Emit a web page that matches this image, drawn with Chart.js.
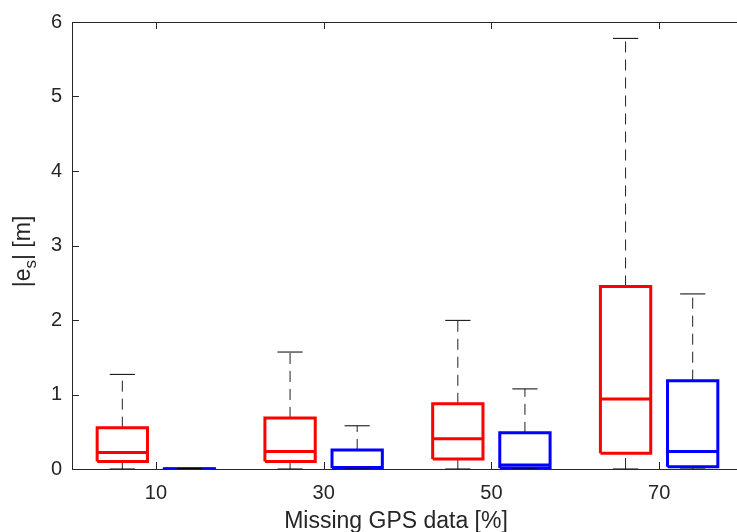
<!DOCTYPE html>
<html>
<head>
<meta charset="utf-8">
<script src="https://cdn.jsdelivr.net/npm/chart.js@4/dist/chart.umd.min.js"></script>
<style>
  html, body { margin: 0; padding: 0; overflow: hidden; background: #fff; }
  #wrap { width: 745px; height: 532px; }
</style>
</head>
<body>
<div id="wrap"><canvas id="chart_error"></canvas></div>
<script>
// missing GPS data [%]
var groups = [10, 30, 50, 70];

// red boxes: |e_s| statistics [m]
var redMin = [0, 0, 0, 0];
var redQ1 = [0.10, 0.10, 0.135, 0.21];
var redMed = [0.22, 0.235, 0.405, 0.94];
var redQ3 = [0.555, 0.685, 0.875, 2.45];
var redMax = [1.27, 1.57, 1.995, 5.78];

// blue boxes
var blueMin = [0, 0, 0, 0];
var blueQ1 = [0, 0.01, 0.013, 0.03];
var blueMed = [0, 0.02, 0.055, 0.235];
var blueQ3 = [0.005, 0.255, 0.485, 1.185];
var blueMax = [0.005, 0.58, 1.075, 2.35];

var yTicks = [0, 1, 2, 3, 4, 5, 6];

var shift = 4;      // box offset from the group position
var halfBox = 3;    // half box width (x units)
var halfCap = 1.5;  // half whisker cap width

var axisColor = '#262626';
var fontFamily = "'Liberation Sans', Arial, sans-serif";

function outlines(off, q1, q3) {
    var pts = [];
    groups.forEach(function (g, i) {
        var c = g + off;
        pts.push({x: c - halfBox, y: q1[i]}, {x: c - halfBox, y: q3[i]},
                 {x: c + halfBox, y: q3[i]}, {x: c + halfBox, y: q1[i]},
                 {x: c - halfBox, y: q1[i]}, {x: c, y: null});
    });
    return pts;
}

function medians(off, med) {
    var pts = [];
    groups.forEach(function (g, i) {
        var c = g + off;
        pts.push({x: c - halfBox, y: med[i]}, {x: c + halfBox, y: med[i]}, {x: c, y: null});
    });
    return pts;
}

function whiskers(off, lo, q1, q3, hi) {
    var pts = [];
    groups.forEach(function (g, i) {
        var c = g + off;
        pts.push({x: c, y: q3[i]}, {x: c, y: hi[i]}, {x: c, y: null});
        pts.push({x: c, y: lo[i]}, {x: c, y: q1[i]}, {x: c, y: null});
    });
    return pts;
}

function caps(off, lo, hi) {
    var pts = [];
    groups.forEach(function (g, i) {
        var c = g + off;
        pts.push({x: c - halfCap, y: hi[i]}, {x: c + halfCap, y: hi[i]}, {x: c, y: null});
        pts.push({x: c - halfCap, y: lo[i]}, {x: c + halfCap, y: lo[i]}, {x: c, y: null});
    });
    return pts;
}

function seg(data, color, width, dash, order) {
    return {
        data: data, borderColor: color, borderWidth: width, borderDash: dash || [],
        pointRadius: 0, fill: false, showLine: true, spanGaps: false,
        tension: 0, borderJoinStyle: 'miter', borderCapStyle: 'butt', order: order
    };
}

// box frame, inward tick marks and the axis titles
var axesBox = {
    id: 'axesBox',
    afterDraw: function (chart) {
        var a = chart.chartArea, c = chart.ctx;
        var xs = chart.scales.x, ys = chart.scales.y;
        c.save();
        c.strokeStyle = axisColor;
        c.lineWidth = 1;
        c.beginPath();
        c.rect(Math.round(a.left) + 0.5, Math.round(a.top) + 0.5,
               Math.round(a.right - a.left), Math.round(a.bottom - a.top));
        groups.forEach(function (g) {
            var px = Math.round(xs.getPixelForValue(g)) + 0.5;
            c.moveTo(px, a.bottom); c.lineTo(px, a.bottom - 7);
            c.moveTo(px, a.top); c.lineTo(px, a.top + 7);
        });
        yTicks.forEach(function (v) {
            var py = Math.round(ys.getPixelForValue(v)) + 0.5;
            c.moveTo(a.left, py); c.lineTo(a.left + 7, py);
        });
        c.stroke();

        var big = "23px " + fontFamily, small = "17px " + fontFamily;
        c.fillStyle = axisColor;
        c.textBaseline = 'alphabetic';

        // x title
        c.font = big;
        c.textAlign = 'center';
        c.fillText('Missing GPS data [%]', 396, 528);

        // y title with subscript: |e_s| [m]
        c.textAlign = 'left';
        c.translate(30, 251.5);
        c.rotate(-Math.PI / 2);
        var w1 = c.measureText('|e').width, w3 = c.measureText('| [m]').width;
        c.font = small;
        var w2 = c.measureText('s').width;
        var x0 = -(w1 + w2 + w3) / 2;
        c.font = big;
        c.fillText('|e', x0, 0);
        c.font = small;
        c.fillText('s', x0 + w1, 6);
        c.font = big;
        c.fillText('| [m]', x0 + w1 + w2, 0);
        c.restore();
    }
};

var ctx = document.getElementById('chart_error').getContext('2d');
var chart = new Chart(ctx, {
    type: 'line',
    data: {
        datasets: [
            seg(caps(-shift, redMin, redMax), '#000', 1, [], 0),
            seg(caps(shift, blueMin, blueMax), '#000', 1, [], 0),
            seg(medians(-shift, redMed), '#ff0000', 3, [], 1),
            seg(medians(shift, blueMed), '#0000ff', 3, [], 1),
            seg(outlines(-shift, redQ1, redQ3), '#ff0000', 3, [], 2),
            seg(outlines(shift, blueQ1, blueQ3), '#0000ff', 3, [], 2),
            seg(whiskers(-shift, redMin, redQ1, redQ3, redMax), '#222', 1, [11, 7], 3),
            seg(whiskers(shift, blueMin, blueQ1, blueQ3, blueMax), '#222', 1, [11, 7], 3)
        ]
    },
    options: {
        responsive: true,
        maintainAspectRatio: false,
        animation: false,
        events: [],
        layout: {padding: {left: 0, right: 2, top: 21, bottom: 0}},
        plugins: {legend: {display: false}, tooltip: {enabled: false}},
        scales: {
            x: {
                type: 'linear', min: 0, max: 80,
                afterBuildTicks: function (axis) {
                    axis.ticks = groups.map(function (g) { return {value: g}; });
                },
                afterFit: function (axis) { axis.height = 63; },
                grid: {display: false, drawTicks: false},
                border: {display: false},
                ticks: {
                    color: axisColor, padding: 12, maxRotation: 0,
                    font: {family: fontFamily, size: 20},
                    callback: function (v) { return v; }
                },
                title: {display: false}
            },
            y: {
                min: 0, max: 6,
                afterBuildTicks: function (axis) {
                    axis.ticks = yTicks.map(function (v) { return {value: v}; });
                },
                afterFit: function (axis) { axis.width = 72; },
                grid: {display: false, drawTicks: false},
                border: {display: false},
                ticks: {color: axisColor, padding: 10, font: {family: fontFamily, size: 20}}
            }
        }
    },
    plugins: [axesBox]
});
</script>
</body>
</html>
